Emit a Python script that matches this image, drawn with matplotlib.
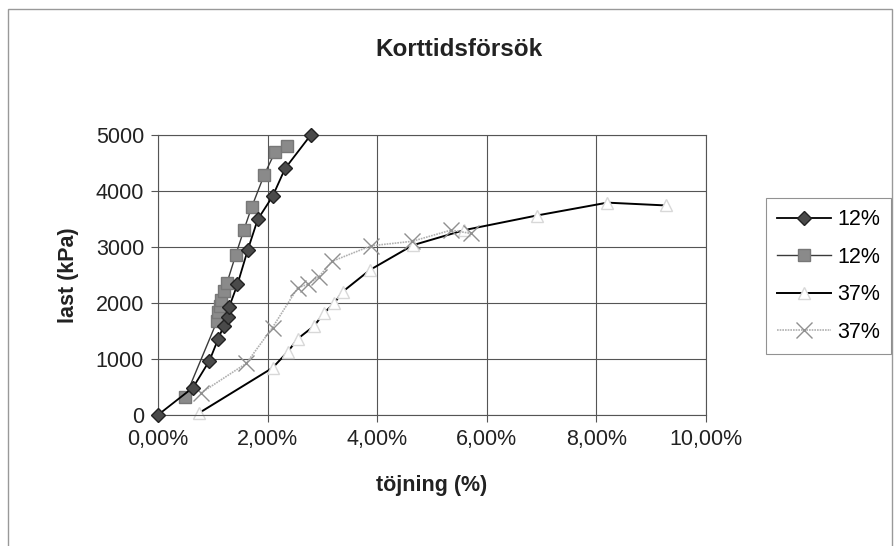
import numpy as np
import matplotlib.pyplot as plt
from matplotlib.ticker import FuncFormatter
from matplotlib.patches import Rectangle

plt.rcParams['font.family'] = ['Liberation Sans', 'DejaVu Sans']

# strain (%) and load (kPa) for each test
strain_12a = [0.00, 0.64, 0.94, 1.10, 1.20, 1.27, 1.30, 1.45, 1.64, 1.82, 2.09, 2.32, 2.79]
load_12a = [0, 490, 970, 1360, 1590, 1740, 1930, 2330, 2950, 3490, 3900, 4400, 5000]

strain_12b = [0.50, 1.08, 1.10, 1.13, 1.15, 1.20, 1.26, 1.42, 1.57, 1.71, 1.94, 2.14, 2.35]
load_12b = [320, 1680, 1830, 1950, 2060, 2210, 2360, 2860, 3310, 3710, 4290, 4700, 4810]

strain_37a = [0.75, 2.09, 2.37, 2.55, 2.85, 3.03, 3.22, 3.37, 3.87, 4.65, 5.59, 6.91, 8.20, 9.27]
load_37a = [35, 840, 1130, 1360, 1590, 1820, 2000, 2200, 2590, 3030, 3300, 3560, 3790, 3740]

strain_37b = [0.78, 1.61, 2.09, 2.55, 2.73, 2.94, 3.17, 3.89, 4.64, 5.35, 5.71]
load_37b = [390, 920, 1560, 2270, 2330, 2470, 2740, 3020, 3100, 3300, 3240]

labels = ['12%', '12%', '37%', '37%']

fs = 15.5

fig = plt.figure(figsize=(8.94, 5.46), dpi=100)
ax = fig.add_axes([0.1767, 0.2400, 0.6130, 0.5130])

ax.plot(strain_12a, load_12a, color='black', lw=1.3, marker='D', ms=7,
        mfc='#4a4a4a', mec='#222222', label=labels[0], zorder=4, clip_on=False)
ax.plot(strain_12b, load_12b, color='#3a3a3a', lw=1.0, marker='s', ms=9,
        mfc='#8a8a8a', mec='#777777', label=labels[1], zorder=3, clip_on=False)
ax.plot(strain_37a, load_37a, color='black', lw=1.4, marker='^', ms=9,
        mfc='white', mec='#d8d8d8', label=labels[2], zorder=2, clip_on=False)
ax.plot(strain_37b, load_37b, color='#b0b0b0', lw=1.2, ls=(0, (1, 0.6)),
        marker='x', ms=11, mew=1.0, mec='#909090', label=labels[3], zorder=2,
        clip_on=False)

ax.set_xlim(0, 10)
ax.set_ylim(0, 5000)
ax.set_xticks(np.arange(0, 10.1, 2))
ax.set_yticks(np.arange(0, 5001, 1000))
ax.xaxis.set_major_formatter(FuncFormatter(lambda v, p: f'{v:.2f}%'.replace('.', ',')))
ax.grid(True, color='#555555', lw=0.8)
ax.set_axisbelow(True)
for s in ax.spines.values():
    s.set_color('#555555')
    s.set_linewidth(0.8)
ax.tick_params(labelsize=fs, colors='#555555', labelcolor='#222222',
               length=5, width=0.8, pad=5)

ax.set_xlabel('töjning (%)', fontsize=fs, fontweight='bold', color='#222222', labelpad=18)
ax.set_ylabel('last (kPa)', fontsize=fs, fontweight='bold', color='#222222', labelpad=12)
fig.text(0.5134, 0.910, 'Korttidsförsök', ha='center', va='center',
         fontsize=17.5, fontweight='bold', color='#222222')

leg = fig.legend(loc='center left', bbox_to_anchor=(0.857, 0.4945), fontsize=fs,
                 frameon=True, fancybox=False, edgecolor='#777777',
                 handlelength=2.5, handletextpad=0.3, labelspacing=0.77,
                 borderpad=0.5, borderaxespad=0)
leg.get_frame().set_linewidth(0.8)

# thin frame around the chart area
fig.patches.append(Rectangle((8 / 894, -0.02), 884 / 894, 1 - 9 / 546 + 0.02,
                             transform=fig.transFigure, fill=False,
                             edgecolor='#999999', lw=1.0))

fig.savefig('out.png', dpi=100)
